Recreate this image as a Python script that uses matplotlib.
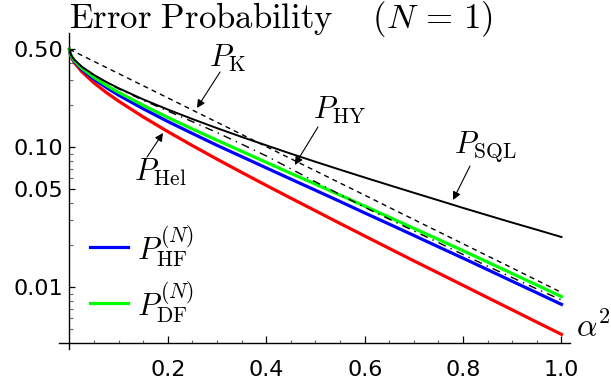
import matplotlib
matplotlib.use("Agg")
import matplotlib.pyplot as plt
from matplotlib.lines import Line2D

plt.rcParams["mathtext.fontset"] = "cm"
plt.rcParams["font.family"] = ["DejaVu Sans"]
plt.rcParams["lines.scale_dashes"] = False

# mean photon number of the coherent states
alpha_sq = [0, 0.002, 0.005, 0.01, 0.025, 0.05, 0.075, 0.1, 0.15, 0.2, 0.25, 0.3,
            0.35, 0.4, 0.45, 0.5, 0.55, 0.6, 0.65, 0.7, 0.75, 0.8, 0.85, 0.9, 0.95, 1.0]

# error probabilities of the different receivers
p_hel = [0.5, 0.4554, 0.4296, 0.4010, 0.3458, 0.2871, 0.2454, 0.2129, 0.1642, 0.1290,
         0.1025, 0.0820, 0.0660, 0.0533, 0.0432, 0.0351, 0.0285, 0.0232, 0.0189, 0.0154,
         0.0126, 0.0103, 0.00841, 0.00688, 0.00562, 0.00460]
p_sql = [0.5, 0.4643, 0.4438, 0.4208, 0.3759, 0.3274, 0.2919, 0.2635, 0.2193, 0.1856,
         0.1587, 0.1366, 0.1183, 0.1030, 0.0898, 0.0786, 0.0690, 0.0607, 0.0535, 0.0472,
         0.0417, 0.0368, 0.0326, 0.0289, 0.0257, 0.0228]
p_k = [0.5, 0.4960, 0.4901, 0.4804, 0.4524, 0.4094, 0.3704, 0.3352, 0.2744, 0.2247,
       0.1839, 0.1506, 0.1233, 0.1009, 0.0826, 0.0677, 0.0554, 0.0454, 0.0371, 0.0304,
       0.0249, 0.0204, 0.0167, 0.0137, 0.0112, 0.00916]
p_df = [0.5, 0.4617, 0.4396, 0.4148, 0.3666, 0.3145, 0.2764, 0.2460, 0.1988, 0.1630,
        0.1348, 0.1120, 0.0934, 0.0779, 0.0650, 0.0544, 0.0454, 0.0379, 0.0316, 0.0263,
        0.0219, 0.0182, 0.0151, 0.0125, 0.01035, 0.00856]
p_hf = [0.5, 0.459, 0.436, 0.410, 0.359, 0.305, 0.2667, 0.235, 0.1879, 0.1524,
        0.1251, 0.1030, 0.0856, 0.0711, 0.0591, 0.0492, 0.0409, 0.0339, 0.0282, 0.0234,
        0.0194, 0.0161, 0.01332, 0.01101, 0.00911, 0.00753]
p_hy = [0.5, 0.4640, 0.4432, 0.4198, 0.3745, 0.3255, 0.2900, 0.2610, 0.2160, 0.1810,
        0.1520, 0.1270, 0.1050, 0.0865, 0.0700, 0.0565, 0.0458, 0.0372, 0.0306, 0.0252,
        0.0208, 0.0171, 0.0141, 0.0117, 0.0097, 0.0081]

x_major = [0.2, 0.4, 0.6, 0.8, 1.0]
x_major_labels = ["0.2", "0.4", "0.6", "0.8", "1.0"]
x_minor = [0.05, 0.1, 0.15, 0.25, 0.3, 0.35, 0.45, 0.5, 0.55, 0.65, 0.7, 0.75, 0.85, 0.9, 0.95]
y_major = [0.01, 0.05, 0.1, 0.5]
y_major_labels = ["0.01", "0.05", "0.10", "0.50"]
y_minor = [0.005, 0.006, 0.007, 0.008, 0.009, 0.02, 0.03, 0.04,
           0.06, 0.07, 0.08, 0.09, 0.2, 0.3, 0.4]

W, H = 611, 380
fig = plt.figure(figsize=(W / 100, H / 100), dpi=100)
ax = fig.add_axes([59 / W, 31 / H, 511 / W, 316 / H])
ax.set_yscale("log")
ax.set_xlim(-0.02134, 1.01728)
ax.set_ylim(0.003616, 0.6537)

for s in ("top", "right"):
    ax.spines[s].set_visible(False)
ax.spines["left"].set_position(("data", 0))
ax.spines["bottom"].set_position(("data", 0.00397))
for s in ("left", "bottom"):
    ax.spines[s].set_linewidth(1.0)

ax.set_xticks(x_major)
ax.set_xticklabels(x_major_labels)
ax.set_xticks(x_minor, minor=True)
ax.set_yticks(y_major)
ax.set_yticklabels(y_major_labels)
ax.set_yticks(y_minor, minor=True)
ax.yaxis.set_minor_formatter(plt.NullFormatter())
ax.tick_params(which="both", direction="in", labelsize=16)
ax.tick_params(axis="x", which="major", length=4.8, width=0.9, pad=12)
ax.tick_params(axis="x", which="minor", length=2.4, width=0.8, color="#666666")
ax.tick_params(axis="y", which="major", length=4.2, width=0.9, pad=4.5)
ax.tick_params(axis="y", which="minor", length=2.6, width=0.8, color="#666666")

ax.plot(alpha_sq, p_hel, color="#ff0000", lw=2.3, zorder=3)
ax.plot(alpha_sq, p_hf, color="#0000ff", lw=2.3, zorder=3.1)
ax.plot(alpha_sq, p_df, color="#00ff00", lw=2.3, zorder=3.2)
ax.plot(alpha_sq, p_k, color="black", lw=1.0, dashes=(3.6, 3.0), zorder=3.3)
ax.plot(alpha_sq, p_hy, color="black", lw=1.0, dashes=(5.8, 3.8, 1.0, 3.8), zorder=3.4)
ax.plot(alpha_sq, p_sql, color="black", lw=1.4, zorder=3.5)

lab = dict(fontsize=22, ha="center", va="center")
arr = dict(arrowstyle="-|>", color="black", lw=0.8, mutation_scale=12, shrinkA=0, shrinkB=0)
ax.text(0.322, 0.433, r"$P_{\mathrm{K}}$", **lab)
ax.annotate("", xy=(0.259, 0.1904), xytext=(0.306, 0.344), arrowprops=arr)
ax.text(0.550, 0.1842, r"$P_{\mathrm{HY}}$", **lab)
ax.annotate("", xy=(0.458, 0.0746), xytext=(0.505, 0.1393), arrowprops=arr)
ax.text(0.845, 0.1019, r"$P_{\mathrm{SQL}}$", **lab)
ax.annotate("", xy=(0.7795, 0.04193), xytext=(0.814, 0.0733), arrowprops=arr)
ax.text(0.184, 0.0664, r"$P_{\mathrm{Hel}}$", **lab)
ax.annotate("", xy=(0.190, 0.1262), xytext=(0.1575, 0.0850), arrowprops=arr)

# legend entries
for yy, col, txt in ((246.7, "#0000ff", r"$P_{\mathrm{HF}}^{(N)}$"),
                     (303.3, "#00ff00", r"$P_{\mathrm{DF}}^{(N)}$")):
    fig.add_artist(Line2D([90 / W, 128 / W], [1 - yy / H, 1 - yy / H], color=col, lw=2.3))
    fig.text(137 / W, 1 - yy / H, txt, fontsize=22, ha="left", va="center")

fig.text(593 / W, 1 - 328 / H, r"$\alpha^2$", fontsize=23, ha="center", va="center")
fig.text(281 / W, 1 - 28.3 / H, r"$\mathrm{Error\ Probability}\quad\ (N\,=\,1)$",
         fontsize=25, ha="center", va="baseline")

fig.savefig("out.png", dpi=100)
